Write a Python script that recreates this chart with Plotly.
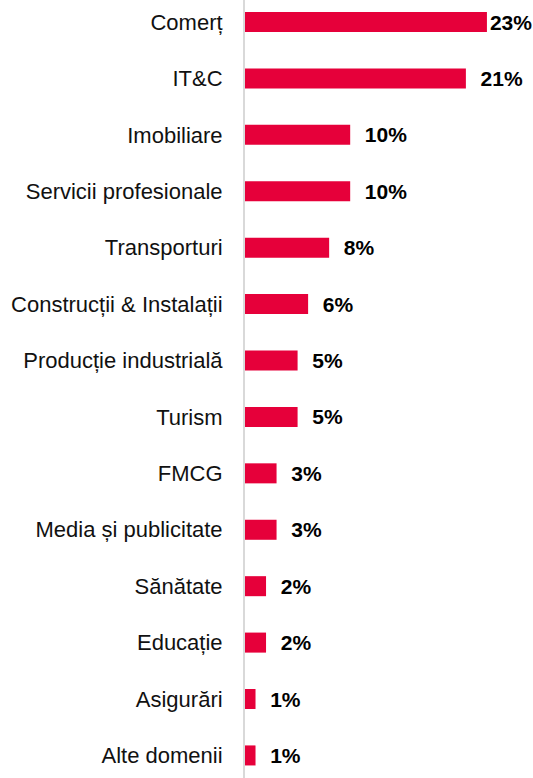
import plotly.graph_objects as go

categories = ["Comerț", "IT&C", "Imobiliare", "Servicii profesionale", "Transporturi",
              "Construcții & Instalații", "Producție industrială", "Turism", "FMCG",
              "Media și publicitate", "Sănătate", "Educație", "Asigurări", "Alte domenii"]
values = [23, 21, 10, 10, 8, 6, 5, 5, 3, 3, 2, 2, 1, 1]
labels = ["23%"] + ["\u00a0\u00a0" + f"{v}%" for v in values[1:]]

fig = go.Figure(go.Bar(
    x=values, y=categories, orientation="h",
    marker=dict(color="#E6003A", line=dict(width=0)),
    text=labels, textposition="outside", cliponaxis=False, constraintext="none",
    textfont=dict(family="Liberation Sans, Arial", size=21, color="#000000", weight="bold"),
    width=0.355,
    hoverinfo="skip",
))

fig.update_layout(
    width=533, height=778,
    margin=dict(l=245, r=0, t=0, b=0),
    paper_bgcolor="white", plot_bgcolor="white",
    showlegend=False,
    font=dict(family="Liberation Sans, Arial", size=22, color="#111111"),
    xaxis=dict(range=[0, 27.38], visible=False, showgrid=False, zeroline=False),
    yaxis=dict(categoryorder="array", categoryarray=categories, range=[13.4, -0.39],
               showline=True, linecolor="#D9D9D9", linewidth=2, showgrid=False,
               ticks="", ticklabelstandoff=16, tickfont=dict(size=22)),
)

fig.write_html("out.html", config={"displayModeBar": False},
               post_script="document.body.style.margin='0';")
